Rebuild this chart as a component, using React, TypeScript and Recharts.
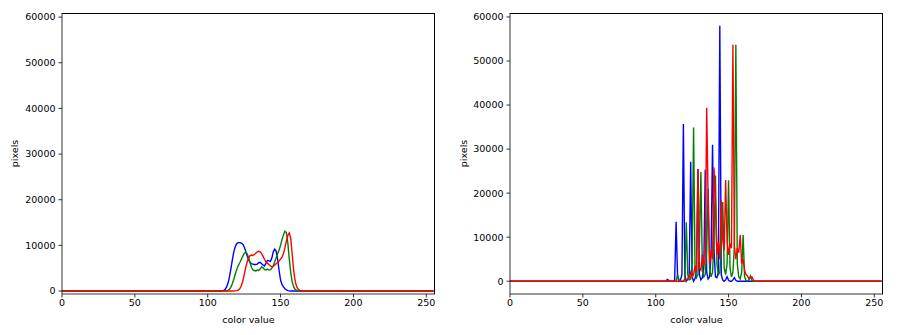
import React from 'react';
import { LineChart, Line, XAxis, YAxis } from 'recharts';

// histogram bins 0..255; only the non-zero stretch is listed, the rest is 0
const X_TICKS = [0, 50, 100, 150, 200, 250];
const Y_TICKS = [0, 10000, 20000, 30000, 40000, 50000, 60000];

// left panel (original image)
const LEFT_BLUE_START = 110;
const LEFT_BLUE = [
  50, 150, 400, 900, 1800, 3200, 5000, 7000, 8700, 9800, 10400, 10600, 10600, 10500, 10300, 9700,
  8800, 7800, 6900, 6300, 6000, 5900, 5800, 5800, 5900, 6200, 6300, 6000, 5700, 5500, 6100, 6700,
  6600, 6500, 7200, 8600, 9200, 8700, 7000, 4500, 2400, 1400, 900, 500, 250, 100, 40,
];
const LEFT_GREEN_START = 113;
const LEFT_GREEN = [
  50, 150, 400, 900, 1700, 2700, 3800, 4800, 5600, 6200, 6900, 7600, 8200, 8500, 8200, 7400,
  6300, 5200, 4600, 4500, 4400, 4600, 4500, 4800, 5300, 5100, 4700, 4600, 4800, 4600, 4700, 5000,
  5600, 6400, 7300, 8200, 9000, 10000, 11300, 12300, 13100, 12800, 10500, 7000, 4000, 2000, 900,
  400, 150, 50,
];
const LEFT_RED_START = 119;
const LEFT_RED = [
  30, 80, 200, 500, 1100, 2100, 3500, 5000, 6300, 7200, 7700, 7900, 7800, 8000, 8300, 8600,
  8700, 8600, 8200, 7600, 6900, 6400, 6100, 5800, 5500, 5300, 5400, 5700, 6000, 6300, 6600, 7000,
  7400, 8200, 9500, 11000, 12200, 12700, 11500, 8000, 4500, 2200, 1000, 450, 150, 50,
];

// right panel (processed image)
const RIGHT_BLUE_START = 108;
const RIGHT_BLUE = [
  400, 200, 0, 0, 0, 300, 13500, 1200, 0, 300, 1500, 35700, 1500, 0, 400, 1500,
  27100, 1000, 0, 600, 2500, 25500, 1500, 300, 800, 3000, 25300, 2000, 500, 1000, 6000, 31000,
  7000, 1000, 800, 2000, 58000, 1500, 300, 0, 300, 1000, 200, 0, 0, 300, 800, 200,
];
const RIGHT_GREEN_START = 115;
const RIGHT_GREEN = [
  1500, 300, 0, 0, 0, 600, 13400, 1500, 300, 500, 4000, 34900, 3000, 800, 1500, 8000,
  24800, 3000, 1000, 1500, 7000, 21000, 3000, 1000, 2000, 9000, 24000, 4000, 1500, 2000, 8000, 18000,
  3000, 1500, 4000, 22900, 3000, 1000, 2000, 8000, 53700, 4000, 1000, 500, 2000, 10500, 1000, 200,
  0, 300, 1200, 200,
];
const RIGHT_RED_START = 121;
const RIGHT_RED = [
  300, 500, 800, 2000, 1000, 1500, 3500, 2000, 25500, 3000, 2500, 6000, 3500, 5000, 39400, 18300,
  4000, 7000, 5000, 25800, 18400, 6000, 9000, 5000, 18400, 9500, 7000, 23000, 9000, 6000, 8500, 7500,
  53700, 8000, 5000, 7500, 6500, 10500, 4000, 5000, 2500, 1500, 1200, 500, 800, 1000, 300,
];

const toBins = (start: number, values: number[]) =>
  Array.from({ length: 256 }, (_, i) => {
    const k = i - start;
    return k >= 0 && k < values.length ? values[k] : 0;
  });

const buildRows = (b: number[], g: number[], r: number[]) =>
  b.map((_, i) => ({ x: i, b: b[i], g: g[i], r: r[i] }));

const leftData = buildRows(
  toBins(LEFT_BLUE_START, LEFT_BLUE),
  toBins(LEFT_GREEN_START, LEFT_GREEN),
  toBins(LEFT_RED_START, LEFT_RED),
);
const rightData = buildRows(
  toBins(RIGHT_BLUE_START, RIGHT_BLUE),
  toBins(RIGHT_GREEN_START, RIGHT_GREEN),
  toBins(RIGHT_RED_START, RIGHT_RED),
);

const FONT = "'DejaVu Sans', sans-serif";
const tickStyle = { fill: '#000', fontSize: 9.5, fontFamily: FONT };
const frame = { stroke: '#000', strokeWidth: 0.8 };

const W = 449;
const H = 335;
const TOP = 13;
const XAXIS_H = 41;

interface PanelProps {
  data: { x: number; b: number; g: number; r: number }[];
  yDomain: [number, number];
  yWidth: number;
  rightMargin: number;
}

const Panel: React.FC<PanelProps> = ({ data, yDomain, yWidth, rightMargin }) => {
  const plotW = W - yWidth - rightMargin;
  const plotH = H - TOP - XAXIS_H;
  const midY = TOP + plotH / 2;
  return (
    <div style={{ position: 'relative', width: W, height: H }}>
      <LineChart
        width={W}
        height={H}
        data={data}
        margin={{ top: TOP, right: rightMargin, bottom: 0, left: 0 }}
      >
        <XAxis
          dataKey="x"
          type="number"
          domain={[0, 256]}
          ticks={X_TICKS}
          allowDataOverflow
          height={XAXIS_H}
          tick={tickStyle}
          tickSize={3.5}
          tickMargin={2}
          axisLine={frame}
          tickLine={frame}
          label={{
            content: () => (
              <text x={yWidth + plotW / 2} y={323} textAnchor="middle" fontSize={9.5} fontFamily={FONT} fill="#000">
                color value
              </text>
            ),
          }}
        />
        <YAxis
          type="number"
          domain={yDomain}
          ticks={Y_TICKS}
          allowDataOverflow
          width={yWidth}
          tick={tickStyle}
          tickSize={3.5}
          tickMargin={3}
          axisLine={frame}
          tickLine={frame}
          label={{
            content: () => (
              <text x={18} y={midY} transform={`rotate(-90 18 ${midY})`} textAnchor="middle" fontSize={9.5} fontFamily={FONT} fill="#000">
                pixels
              </text>
            ),
          }}
        />
        <Line type="linear" dataKey="b" stroke="#0000ff" strokeWidth={1.4} dot={false} isAnimationActive={false} />
        <Line type="linear" dataKey="g" stroke="#008000" strokeWidth={1.4} dot={false} isAnimationActive={false} />
        <Line type="linear" dataKey="r" stroke="#ff0000" strokeWidth={1.4} dot={false} isAnimationActive={false} />
      </LineChart>
      {/* top and right spines */}
      <div
        style={{
          position: 'absolute',
          left: yWidth,
          top: TOP,
          width: plotW,
          height: plotH,
          borderTop: '1px solid #000',
          borderRight: '1px solid #000',
          boxSizing: 'border-box',
          pointerEvents: 'none',
        }}
      />
    </div>
  );
};

export default function App() {
  return (
    <div style={{ position: 'absolute', left: 0, top: 0, width: 898, height: 335, background: '#fff', display: 'flex' }}>
      <Panel data={leftData} yDomain={[-650, 60900]} yWidth={62} rightMargin={14} />
      <Panel data={rightData} yDomain={[-2900, 60900]} yWidth={61} rightMargin={15} />
    </div>
  );
}
